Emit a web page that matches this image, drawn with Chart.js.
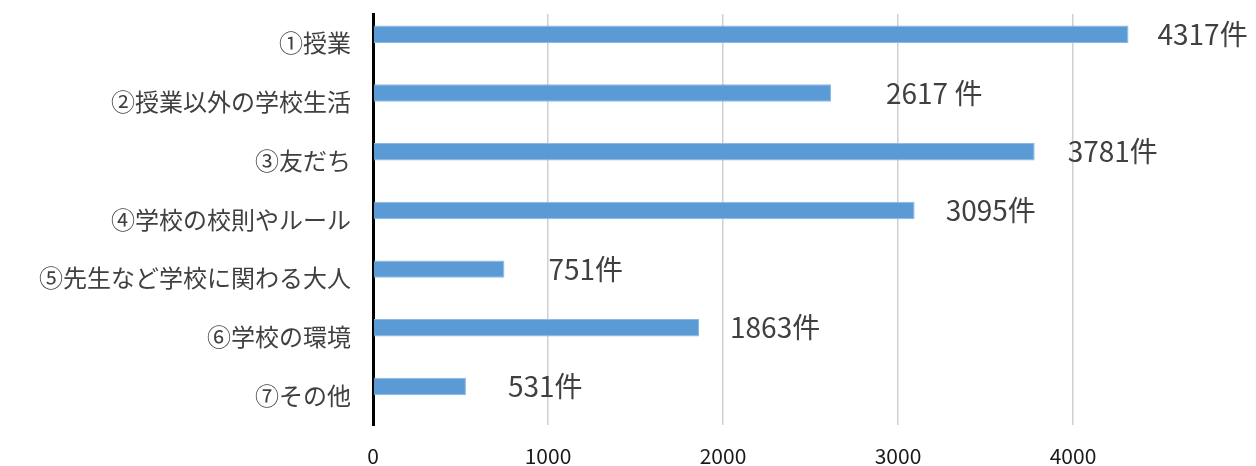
<!DOCTYPE html>
<html>
<head>
<meta charset="utf-8">
<script src="https://cdn.jsdelivr.net/npm/chart.js@4/dist/chart.umd.min.js"></script>
<style>
  html, body { margin: 0; padding: 0; background: #fff; }
  #wrap { width: 1256px; height: 466px; }
</style>
</head>
<body>
<div id="wrap"><canvas id="myChart"></canvas></div>
<script>
const categories = ["①授業", "②授業以外の学校生活", "③友だち", "④学校の校則やルール", "⑤先生など学校に関わる大人", "⑥学校の環境", "⑦その他"];
const counts = [4317, 2617, 3781, 3095, 751, 1863, 531];
const units = ["件", " 件", "件", "件", "件", "件", "件"];
const labelGap = [29, 55, 33, 31, 44, 31, 42];
const xTicks = [0, 1000, 2000, 3000, 4000];

const font = "'Noto Sans CJK JP', 'Noto Sans', sans-serif";

// value labels drawn next to each bar end
const barLabels = {
  id: 'barLabels',
  afterDatasetsDraw(chart) {
    const ctx = chart.ctx;
    const meta = chart.getDatasetMeta(0);
    ctx.save();
    ctx.font = "28px " + font;
    ctx.fillStyle = '#404040';
    ctx.textAlign = 'left';
    ctx.textBaseline = 'middle';
    meta.data.forEach((bar, i) => {
      ctx.fillText(counts[i] + units[i], bar.x + labelGap[i], bar.y);
    });
    ctx.restore();
  }
};

const data = {
  labels: categories,
  datasets: [{
    data: counts,
    backgroundColor: '#5b9bd5',
    borderColor: '#8cb8e3',
    borderWidth: 1,
    barPercentage: 0.96,
    categoryPercentage: 0.62
  }, {
    // empty second series, as in the original sheet (keeps bars above the label line)
    data: categories.map(() => null),
    barPercentage: 0.96,
    categoryPercentage: 0.62
  }]
};

const config = {
  type: 'bar',
  data: data,
  options: {
    indexAxis: 'y',
    responsive: true,
    maintainAspectRatio: false,
    animation: false,
    layout: { padding: { top: 14, right: 8, left: 0, bottom: 0 } },
    plugins: { legend: { display: false }, tooltip: { enabled: false } },
    scales: {
      x: {
        min: 0,
        max: 5000,
        afterFit(scale) {
          scale.height = 41;
          scale.paddingLeft = 0;
          scale.paddingRight = 0;
        },
        afterBuildTicks(scale) {
          scale.ticks = xTicks.concat([5000]).map(v => ({ value: v }));
        },
        ticks: {
          padding: 18,
          color: '#1a1a1a',
          font: { family: font, size: 21 },
          callback: v => (xTicks.includes(v) ? v : '')
        },
        grid: {
          drawTicks: false,
          color: c => (c.tick && c.tick.value > 0 && c.tick.value < 5000 ? '#d0d0d0' : 'rgba(0,0,0,0)'),
          lineWidth: 1.5
        },
        border: { display: false }
      },
      y: {
        afterFit(scale) {
          scale.width = 373;
          scale.paddingTop = 0;
          scale.paddingBottom = 0;
        },
        ticks: {
          padding: 22,
          color: '#404040',
          font: { family: font, size: 24 }
        },
        grid: { display: false, drawTicks: false },
        border: { display: true, color: '#000', width: 3 }
      }
    }
  },
  plugins: [barLabels]
};

const myChart = new Chart(document.getElementById('myChart'), config);
</script>
</body>
</html>
